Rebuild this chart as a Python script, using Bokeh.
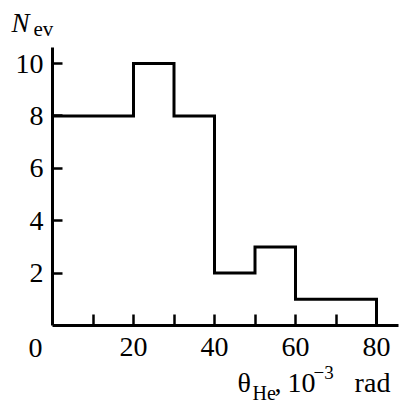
from bokeh.plotting import figure
from bokeh.models import Label, FixedTicker, Range1d, LinearAxis
from bokeh.embed import file_html
from bokeh.resources import INLINE

# Histogram data (bin edges in 10^-3 rad, counts)
bin_edges = [0, 10, 20, 30, 40, 50, 60, 70, 80]
counts = [8, 8, 10, 8, 2, 3, 1, 1]
x_ticks = [10, 20, 30, 40, 50, 60, 70, 80]
x_tick_labels = {10: "", 20: "20", 30: "", 40: "40", 50: "", 60: "60", 70: "", 80: "80"}
y_ticks = [2, 4, 6, 8, 10]
x_axis_end = 85.4
y_axis_end = 10.61

FONT = "Liberation Serif"

W, H = 408, 410
X0, Y0 = 52, 325          # pixel position of the origin
SX, SY = 4.05, 26.2       # pixels per unit
DY = 8                    # baseline correction for labels

p = figure(width=W, height=H, output_backend="svg", toolbar_location=None,
           x_axis_location=None, y_axis_location=None,
           x_range=Range1d(-X0 / SX, (W - X0) / SX),
           y_range=Range1d(-(H - Y0) / SY, Y0 / SY),
           min_border=0, min_border_left=0, min_border_right=0,
           min_border_top=0, min_border_bottom=0)
p.outline_line_color = None
p.xgrid.visible = False
p.ygrid.visible = False
p.background_fill_color = "white"
p.border_fill_color = "white"

# step outline
xs, ys = [], []
for i, c in enumerate(counts):
    xs += [bin_edges[i], bin_edges[i + 1]]
    ys += [c, c]
xs.append(bin_edges[-1])
ys.append(0)
p.line(xs, ys, line_color="black", line_width=3, line_join="miter")

xaxis = LinearAxis(fixed_location=0, bounds=(0, x_axis_end))
yaxis = LinearAxis(fixed_location=0, bounds=(0, y_axis_end))
p.add_layout(xaxis, "below")
p.add_layout(yaxis, "left")

for ax in (xaxis, yaxis):
    ax.axis_line_width = 3
    ax.axis_line_color = "black"
    ax.major_tick_line_width = 2.5
    ax.major_tick_in = 11
    ax.major_tick_out = 0
    ax.minor_tick_in = 0
    ax.minor_tick_out = 0
    ax.major_label_text_font = FONT
    ax.major_label_text_font_size = "28px"
    ax.major_label_text_color = "black"

xaxis.ticker = FixedTicker(ticks=x_ticks)
xaxis.major_label_overrides = x_tick_labels
xaxis.major_label_standoff = 12
yaxis.ticker = FixedTicker(ticks=y_ticks)
yaxis.major_label_standoff = 9
yaxis.major_tick_in = 10

def lab(text, dx, dy, size, style="normal", align="left"):
    p.add_layout(Label(x=0, y=0, x_offset=dx, y_offset=dy + DY, text=text,
                       text_font=FONT, text_font_size=size, text_font_style=style,
                       text_align=align, text_baseline="alphabetic", text_color="black"))

# origin label
lab("0", -17, -30, "28px", align="center")
# y label N_ev
lab("N", -41, 295, "27px", style="italic")
lab("ev", -19, 289, "21px")
# x label θ_He, 10^-3 rad
lab("θ", 185, -65, "28px")
lab("He", 200, -75, "20px")
lab(",", 222, -65, "28px")
lab("10", 235, -65, "28px")
lab("−3", 261, -55, "19px")
lab("rad", 320, -65, "28px", align="center")

open("out.html", "w").write(file_html(p, INLINE))
